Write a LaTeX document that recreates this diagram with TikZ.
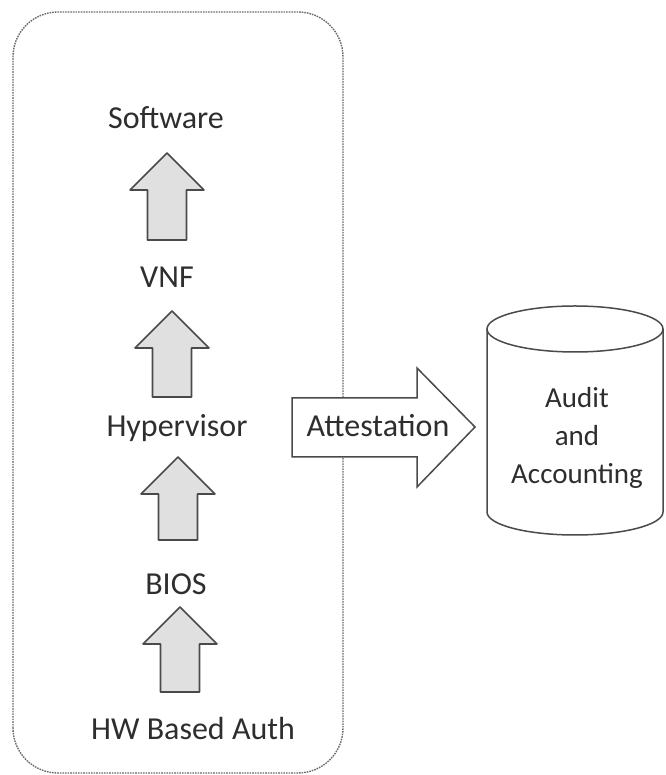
\documentclass[tikz,border=0pt]{standalone}
\usepackage{fontspec}
\setmainfont{Carlito}
\definecolor{txt}{HTML}{2E2E2E}
\definecolor{edge}{HTML}{4A4A4A}
\definecolor{arrfill}{HTML}{E0E0E0}
\definecolor{frame}{HTML}{6A6A6A}
\begin{document}
\begin{tikzpicture}[x=1pt,y=1pt,
  lbl/.style={font=\fontsize{32}{38}\selectfont, text=txt, anchor=base, inner sep=0pt},
  blockarrow/.style={draw=edge, fill=arrfill, line width=1.6pt, line join=round},
  attarrow/.style={draw=edge, fill=white, line width=1.5pt, line join=miter},
  cylline/.style={draw=edge, line width=1.5pt},
  uparrow/.pic={
    \path[blockarrow] (0,0) -- (37,-37) -- (19.5,-37) -- (19.5,-#1) -- (-19.5,-#1)
      -- (-19.5,-37) -- (-37,-37) -- cycle;
  }]
\useasboundingbox (0,0) rectangle (665,775);

% dashed frame round the boot chain
\draw[frame, line width=1.4pt, dash pattern=on 1.6pt off 1pt, rounded corners=45pt]
  (13,2) rectangle (343,763);

% boot chain labels
\node[lbl] (sw)   at (166,646) {Software};
\node[lbl] (vnf)  at (167,487) {VNF};
\node[lbl] (hyp)  at (177,338) {Hypervisor};
\node[lbl] (bios) at (176,180) {BIOS};
\node[lbl] (hw)   at (193,35)  {HW Based Auth};

% arrow tips between the layers
\coordinate (t1) at (167,622);
\coordinate (t2) at (172,464);
\coordinate (t3) at (178,318);
\coordinate (t4) at (180,168);
\pic at (t1) {uparrow=87};
\pic at (t2) {uparrow=86};
\pic at (t3) {uparrow=83};
\pic at (t4) {uparrow=85};

% attestation block arrow
\path[attarrow] (292,377) -- (417,377) -- (417,407) -- (475,348) -- (417,288)
  -- (417,318) -- (292,318) -- cycle;
\node[lbl] (att) at (378,338) {Attestation};

% audit database cylinder
\path[cylline, fill=white] (487,446) -- (487,263)
  arc[start angle=180, end angle=360, x radius=88, y radius=23] -- (663,446);
\path[cylline, fill=white] (575,446) ellipse [x radius=88, y radius=23];
\node[font=\fontsize{29}{38}\selectfont, text=txt, align=center, inner sep=0pt]
  (audit) at (577,337) {Audit\\and\\Accounting};
\end{tikzpicture}
\end{document}
